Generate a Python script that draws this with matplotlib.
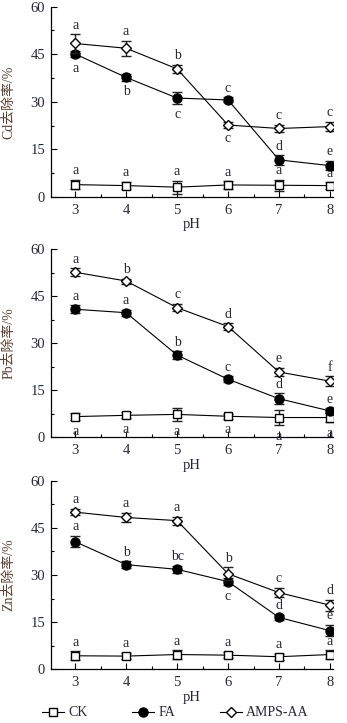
import matplotlib
matplotlib.use("Agg")
import matplotlib.pyplot as plt
from matplotlib.ticker import MultipleLocator
from matplotlib.lines import Line2D

ph = [3, 4, 5, 6, 7, 8]
series_names = ["CK", "FA", "AMPS-AA"]
ylabels = ["Cd去除率/%", "Pb去除率/%", "Zn去除率/%"]

# Cd
cd_ck = [3.9, 3.6, 3.1, 3.8, 3.7, 3.6]
cd_ck_err = [1.5, 1.2, 2.0, 1.2, 1.8, 1.0]
cd_fa = [45.1, 37.7, 31.2, 30.6, 11.7, 9.9]
cd_fa_err = [1.0, 1.0, 1.8, 0.8, 1.5, 1.5]
cd_am = [48.4, 46.9, 40.4, 22.7, 21.6, 22.2]
cd_am_err = [2.9, 2.4, 1.3, 0.8, 1.2, 1.5]
cd_ck_lab = ["a", "a", "a", "a", "a", "a"]
cd_fa_lab = ["a", "b", "c", "c", "d", "e"]
cd_am_lab = ["a", "a", "b", "c", "c", "c"]
cd_ck_pos = ["up", "up", "up", "up", "up", "up"]
cd_fa_pos = ["dn", "dn", "dn", "up", "up", "up"]
cd_am_pos = ["up", "up", "up", "dn", "up", "up"]

# Pb
pb_ck = [6.6, 7.0, 7.3, 6.7, 6.3, 6.3]
pb_ck_err = [1.2, 1.0, 2.0, 0.8, 2.5, 1.5]
pb_fa = [40.8, 39.7, 26.2, 18.5, 12.3, 8.4]
pb_fa_err = [1.2, 1.0, 1.2, 1.0, 1.7, 0.8]
pb_am = [52.6, 49.8, 41.3, 35.3, 20.8, 17.9]
pb_am_err = [1.3, 0.8, 1.2, 1.0, 1.3, 1.5]
pb_ck_lab = ["a", "a", "a", "a", "a", "a"]
pb_fa_lab = ["a", "a", "b", "c", "d", "e"]
pb_am_lab = ["a", "b", "c", "d", "e", "f"]
pb_ck_pos = ["dn", "dn", "dn", "dn", "dn", "dn"]
pb_fa_pos = ["up", "up", "up", "up", "up", "up"]
pb_am_pos = ["up", "up", "up", "up", "up", "up"]

# Zn
zn_ck = [4.3, 4.2, 4.7, 4.5, 4.0, 4.7]
zn_ck_err = [1.5, 1.0, 1.3, 1.0, 1.0, 1.3]
zn_fa = [40.6, 33.3, 31.8, 27.9, 16.5, 12.3]
zn_fa_err = [1.8, 1.0, 1.2, 1.2, 0.8, 1.8]
zn_am = [50.0, 48.3, 47.3, 30.4, 24.4, 20.4]
zn_am_err = [1.0, 1.5, 1.3, 2.0, 1.5, 1.8]
zn_ck_lab = ["a", "a", "a", "a", "a", "a"]
zn_fa_lab = ["a", "b", "bc", "c", "d", "e"]
zn_am_lab = ["a", "a", "a", "b", "c", "d"]
zn_ck_pos = ["up", "up", "up", "up", "up", "up"]
zn_fa_pos = ["up", "up", "up", "dn", "up", "up"]
zn_am_pos = ["up", "up", "up", "up", "up", "up"]

panels = [
    (cd_ck, cd_ck_err, cd_ck_lab, cd_ck_pos, cd_fa, cd_fa_err, cd_fa_lab, cd_fa_pos, cd_am, cd_am_err, cd_am_lab, cd_am_pos),
    (pb_ck, pb_ck_err, pb_ck_lab, pb_ck_pos, pb_fa, pb_fa_err, pb_fa_lab, pb_fa_pos, pb_am, pb_am_err, pb_am_lab, pb_am_pos),
    (zn_ck, zn_ck_err, zn_ck_lab, zn_ck_pos, zn_fa, zn_fa_err, zn_fa_lab, zn_fa_pos, zn_am, zn_am_err, zn_am_lab, zn_am_pos),
]

plt.rcParams["font.family"] = ["Liberation Serif", "Noto Sans CJK SC"]
TXT = "#26263c"
LAB = "#5c4030"

W, H = 347, 723
fig = plt.figure(figsize=(W / 100, H / 100), dpi=100)

axes_px = [(6.7, 197.0), (249.0, 437.3), (480.7, 669.3)]
left_px, right_px = 50.7, 333.0

styles = [
    dict(marker="s", mfc="white", mec="black", ms=5.5, mew=1.0),
    dict(marker="o", mfc="black", mec="black", ms=6.5, mew=1.0),
    dict(marker="D", mfc="white", mec="black", ms=5.0, mew=1.0),
]

for (top, bot), data, ylab in zip(axes_px, panels, ylabels):
    ax = fig.add_axes([left_px / W, 1 - bot / H, (right_px - left_px) / W, (bot - top) / H])
    for k in range(3):
        vals, errs, labs, poss = data[4 * k], data[4 * k + 1], data[4 * k + 2], data[4 * k + 3]
        ax.errorbar(ph, vals, yerr=errs, color="black", lw=0.8, elinewidth=1.0,
                    ecolor="#222222", capsize=3.5, capthick=1.0, zorder=3 + k,
                    **styles[k])
        for x, v, e, t, p in zip(ph, vals, errs, labs, poss):
            if p == "up":
                ax.annotate(t, (x, v + e), xytext=(0, 6.5), textcoords="offset points",
                            ha="center", va="center", fontsize=10, color=TXT)
            else:
                ax.annotate(t, (x, v - e), xytext=(0, -8), textcoords="offset points",
                            ha="center", va="center", fontsize=10, color=TXT)
    ax.set_xlim(2.52, 8.06)
    ax.set_ylim(0, 60)
    ax.set_xticks(ph)
    ax.set_yticks([0, 15, 30, 45, 60])
    ax.xaxis.set_minor_locator(MultipleLocator(0.5))
    ax.yaxis.set_minor_locator(MultipleLocator(7.5))
    ax.tick_params(which="both", direction="in", colors="black", labelcolor=TXT,
                   labelsize=10.5, width=0.8)
    ax.tick_params(which="major", length=4)
    ax.tick_params(which="minor", length=2.5)
    ax.tick_params(axis="x", pad=5)
    ax.tick_params(axis="y", pad=4)
    for s in ["top", "right"]:
        ax.spines[s].set_visible(False)
    for s in ["left", "bottom"]:
        ax.spines[s].set_linewidth(0.9)
    ax.set_xlabel("pH", fontsize=10.5, color=TXT, labelpad=1)
    ax.set_ylabel(ylab, fontsize=10, color=LAB, labelpad=6)
    ax.yaxis.set_label_coords(-0.125, 0.5)

handles = [Line2D([], [], color="black", lw=0.8, **styles[k]) for k in range(3)]
fig.legend(handles, series_names, loc="center", bbox_to_anchor=(0.505, 1 - 713 / H),
           ncol=3, frameon=False, fontsize=10, handlelength=1.6, handletextpad=0.3,
           columnspacing=3.2, labelcolor=TXT)

fig.savefig("out.png", dpi=100)
